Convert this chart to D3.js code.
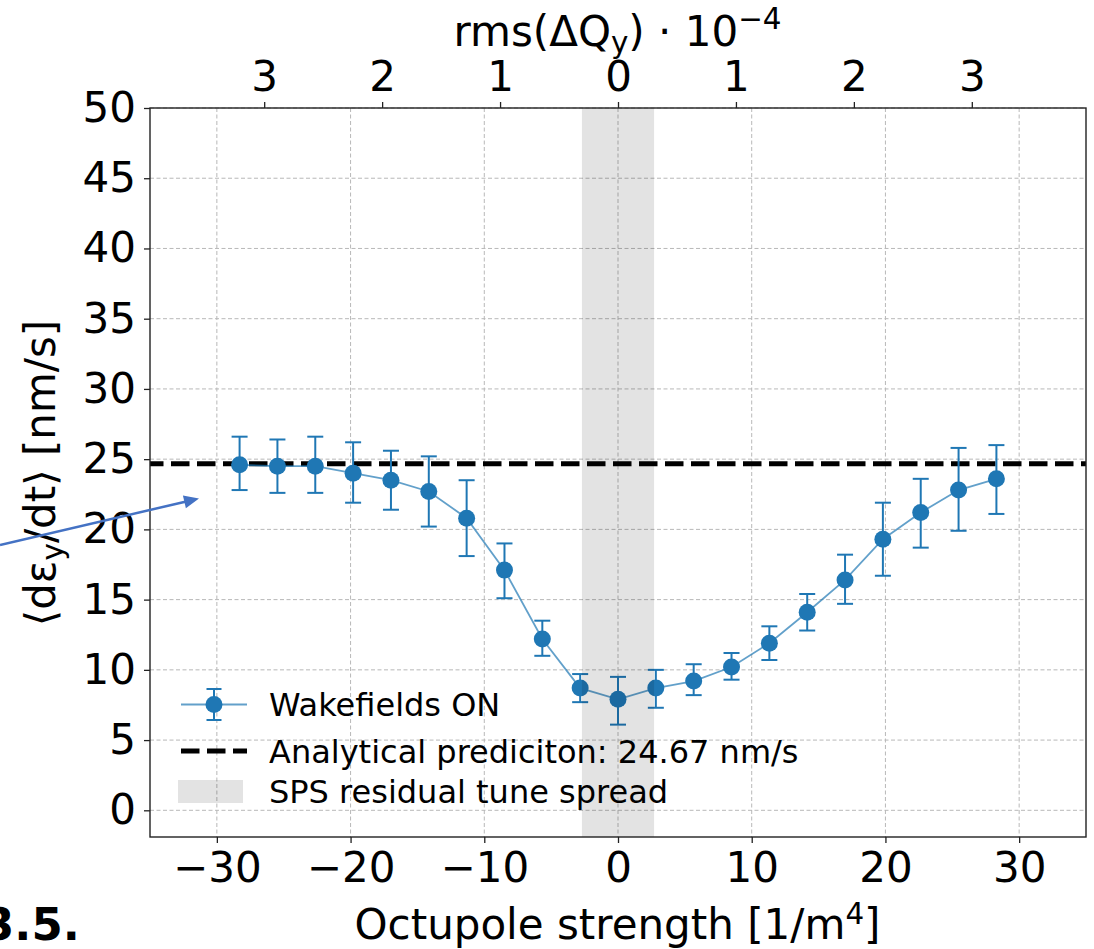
<!DOCTYPE html>
<html>
<head>
<meta charset="utf-8">
<script src="https://cdn.jsdelivr.net/npm/d3@7"></script>
<style>
  html, body { margin: 0; padding: 0; background: #fff; }
  svg { display: block; }
  text { font-family: "DejaVu Sans", sans-serif; fill: #000; }
</style>
</head>
<body>
<svg id="chart" width="1094" height="949"></svg>
<script>
// ---------------- data ----------------
const octupole = [-28.3, -25.47, -22.64, -19.81, -16.98, -14.15, -11.32, -8.49, -5.66, -2.83, 0,
                  2.83, 5.66, 8.49, 11.32, 14.15, 16.98, 19.81, 22.64, 25.47, 28.3];
const growthRate = [24.6, 24.5, 24.5, 24.0, 23.5, 22.7, 20.8, 17.1, 12.2, 8.7, 7.9,
                    8.7, 9.2, 10.2, 11.9, 14.1, 16.4, 19.3, 21.2, 22.8, 23.6];
const errUpper = [26.6, 26.4, 26.6, 26.2, 25.6, 25.2, 23.5, 19.0, 13.5, 9.7, 9.5,
                  10.0, 10.4, 11.2, 13.1, 15.4, 18.2, 21.9, 23.6, 25.8, 26.0];
const errLower = [22.8, 22.6, 22.6, 21.9, 21.4, 20.2, 18.1, 15.1, 11.0, 7.7, 6.1,
                  7.3, 8.2, 9.3, 10.7, 12.8, 14.7, 16.7, 18.7, 19.9, 21.1];
const analyticalPrediction = 24.67;
const residualSpread = 2.7;          // half width of the SPS residual tune spread band (octupole units)
const octupolePerRms = 8.82;          // octupole strength per 1e-4 of rms(ΔQy)
const xTicks = [-30, -20, -10, 0, 10, 20, 30];
const yTicks = [0, 5, 10, 15, 20, 25, 30, 35, 40, 45, 50];
const topTicks = [-3, -2, -1, 0, 1, 2, 3];
const legendLabels = ["Wakefields ON", "Analytical prediciton: 24.67 nm/s", "SPS residual tune spread"];

// ---------------- layout ----------------
const L = 150, R = 1086, T = 108, B = 837;
const blue = "#1f77b4";
const svg = d3.select("#chart");

const x = d3.scaleLinear().domain([-35, 35]).range([L, R]);
const y = d3.scaleLinear().domain([-1.9, 50]).range([B, T]);

// grid
const grid = svg.append("g").attr("stroke", "#b8b8b8").attr("stroke-width", 1).attr("stroke-dasharray", "4,2.5");
grid.selectAll("line.v").data(xTicks).join("line").attr("class", "v")
  .attr("x1", d => x(d)).attr("x2", d => x(d)).attr("y1", T).attr("y2", B);
grid.selectAll("line.h").data(yTicks).join("line").attr("class", "h")
  .attr("x1", L).attr("x2", R).attr("y1", d => y(d)).attr("y2", d => y(d));

// analytical prediction line
svg.append("line")
  .attr("x1", L).attr("x2", R)
  .attr("y1", y(analyticalPrediction)).attr("y2", y(analyticalPrediction))
  .attr("stroke", "#000").attr("stroke-width", 5)
  .attr("stroke-dasharray", "18.5,7.5").attr("stroke-dashoffset", 5);

// data
const pts = octupole.map((o, i) => ({x: o, y: growthRate[i], hi: errUpper[i], lo: errLower[i]}));

svg.append("path").datum(pts)
  .attr("fill", "none").attr("stroke", blue).attr("stroke-opacity", 0.7).attr("stroke-width", 1.8)
  .attr("d", d3.line().x(d => x(d.x)).y(d => y(d.y)));

const eb = svg.append("g").attr("stroke", blue).attr("stroke-width", 2);
eb.selectAll("line.bar").data(pts).join("line").attr("class", "bar")
  .attr("x1", d => x(d.x)).attr("x2", d => x(d.x)).attr("y1", d => y(d.hi)).attr("y2", d => y(d.lo));
eb.selectAll("line.capH").data(pts).join("line").attr("class", "capH")
  .attr("x1", d => x(d.x) - 8).attr("x2", d => x(d.x) + 8).attr("y1", d => y(d.hi)).attr("y2", d => y(d.hi));
eb.selectAll("line.capL").data(pts).join("line").attr("class", "capL")
  .attr("x1", d => x(d.x) - 8).attr("x2", d => x(d.x) + 8).attr("y1", d => y(d.lo)).attr("y2", d => y(d.lo));

svg.append("g").selectAll("circle").data(pts).join("circle")
  .attr("cx", d => x(d.x)).attr("cy", d => y(d.y)).attr("r", 8.5).attr("fill", blue);

// residual tune spread band
svg.append("rect")
  .attr("x", x(-residualSpread)).attr("y", T)
  .attr("width", x(residualSpread) - x(-residualSpread)).attr("height", B - T)
  .attr("fill", "#000").attr("fill-opacity", 0.11);

// axes
const fmt = d => d3.format("d")(d);
const axB = svg.append("g").attr("transform", `translate(0,${B})`)
  .call(d3.axisBottom(x).tickValues(xTicks).tickSize(6).tickPadding(9).tickFormat(fmt));
const axL = svg.append("g").attr("transform", `translate(${L},0)`)
  .call(d3.axisLeft(y).tickValues(yTicks).tickSize(6).tickPadding(8).tickFormat(fmt));
const axT = svg.append("g").attr("transform", `translate(0,${T})`)
  .call(d3.axisTop(x).tickValues(topTicks.map(t => t * octupolePerRms)).tickSize(6).tickPadding(11)
    .tickFormat((d, i) => String(Math.abs(topTicks[i]))));
[axB, axL, axT].forEach(a => {
  a.select(".domain").remove();
  a.selectAll(".tick line").attr("stroke", "#222").attr("stroke-width", 1.3);
  a.selectAll(".tick text").attr("font-size", 42).attr("font-family", "DejaVu Sans").attr("fill", "#000");
});

// frame
svg.append("rect").attr("x", L).attr("y", T).attr("width", R - L).attr("height", B - T)
  .attr("fill", "none").attr("stroke", "#222").attr("stroke-width", 1.4);

// axis labels
const xl = svg.append("text").attr("x", (L + R) / 2 - 0.5).attr("y", 939)
  .attr("text-anchor", "middle").attr("font-size", 42);
xl.append("tspan").text("Octupole strength [1/m");
xl.append("tspan").attr("font-size", 29.4).attr("dy", -15).text("4");
xl.append("tspan").attr("dy", 15).text("]");

const tl = svg.append("text").attr("x", (L + R) / 2 - 0.5).attr("y", 46)
  .attr("text-anchor", "middle").attr("font-size", 42);
tl.append("tspan").text("rms(ΔQ");
tl.append("tspan").attr("font-size", 29.4).attr("dy", 7).text("y");
tl.append("tspan").attr("dy", -7).text(") · 10");
tl.append("tspan").attr("font-size", 29.4).attr("dy", -17).text("−4");

const yl = svg.append("text").attr("transform", "translate(55,473) rotate(-90)")
  .attr("text-anchor", "middle").attr("font-size", 42);
yl.append("tspan").text("⟨dε");
yl.append("tspan").attr("font-size", 29.4).attr("dy", 8).text("y");
yl.append("tspan").attr("dy", -8).text("/dt⟩ [nm/s]");

// legend
const lg = svg.append("g");
const ly = [704.5, 751, 791.5];
lg.append("line").attr("x1", 181).attr("x2", 247).attr("y1", ly[0]).attr("y2", ly[0])
  .attr("stroke", blue).attr("stroke-opacity", 0.7).attr("stroke-width", 1.8);
lg.append("line").attr("x1", 214).attr("x2", 214).attr("y1", ly[0] - 15.5).attr("y2", ly[0] + 15.5)
  .attr("stroke", blue).attr("stroke-width", 2);
[-15.5, 15.5].forEach(o => lg.append("line").attr("x1", 206.5).attr("x2", 221.5)
  .attr("y1", ly[0] + o).attr("y2", ly[0] + o).attr("stroke", blue).attr("stroke-width", 2));
lg.append("circle").attr("cx", 214).attr("cy", ly[0]).attr("r", 8.5).attr("fill", blue);
lg.append("line").attr("x1", 181).attr("x2", 247).attr("y1", ly[1]).attr("y2", ly[1])
  .attr("stroke", "#000").attr("stroke-width", 5).attr("stroke-dasharray", "18.5,7.5");
lg.append("rect").attr("x", 178).attr("y", ly[2] - 11.5).attr("width", 65).attr("height", 23)
  .attr("fill", "#000").attr("fill-opacity", 0.11);
lg.selectAll("text").data(legendLabels).join("text")
  .attr("x", 269).attr("y", (d, i) => ly[i] + 11.5).attr("font-size", 32).text(d => d);

// annotation arrow (document overlay)
const tail = [0, 545], tip = [199, 498.5];
const dx = tip[0] - tail[0], dy = tip[1] - tail[1], len = Math.hypot(dx, dy);
const ux = dx / len, uy = dy / len, hl = 15, hw = 6.5;
const base = [tip[0] - hl * ux, tip[1] - hl * uy];
svg.append("line").attr("x1", tail[0]).attr("y1", tail[1]).attr("x2", base[0] + 2 * ux).attr("y2", base[1] + 2 * uy)
  .attr("stroke", "#4472c4").attr("stroke-width", 2.5);
svg.append("polygon").attr("fill", "#4472c4")
  .attr("points", [tip, [base[0] - hw * uy, base[1] + hw * ux], [base[0] + hw * uy, base[1] - hw * ux]]
    .map(p => p.join(",")).join(" "));

// cropped caption number
svg.append("text").attr("x", -17).attr("y", 940).attr("font-size", 45).attr("font-weight", "bold").text("3.5.");
</script>
</body>
</html>
